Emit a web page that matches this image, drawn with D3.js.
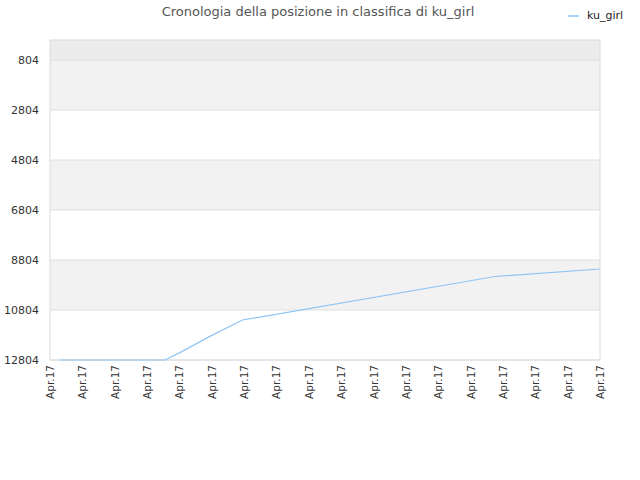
<!DOCTYPE html>
<html><head><meta charset="utf-8">
<script src="https://cdn.jsdelivr.net/npm/d3@7"></script>
<style>body{margin:0;background:#fff;font-family:"DejaVu Sans",sans-serif}</style>
</head><body><div id="chart"></div>
<script>
// x positions expressed in tick-slot units (0..17)
const tickLabels = d3.range(18).map(() => "Apr.17");
const xVals = [0.3, 3.55, 4.0, 5.0, 5.95, 13.75, 17];
const rankVals = [12804, 12804, 12520, 11820, 11204, 9464, 9164];
const yTicks = [804, 2804, 4804, 6804, 8804, 10804, 12804];

const W = 640, H = 480, m = {l: 50, r: 40, t: 40, b: 120};
const svg = d3.select("#chart").append("svg").attr("width", W).attr("height", H);

const x = d3.scaleLinear().domain([0, 17]).range([m.l, W - m.r]);
const y = d3.scaleLinear().domain([4, 12804]).range([m.t, H - m.b]);

// bands
const bands = [[4, 804, "#ececec"], [804, 2804, "#f2f2f2"], [4804, 6804, "#f2f2f2"], [8804, 10804, "#f2f2f2"]];
svg.selectAll(".band").data(bands).enter().append("rect")
  .attr("x", x(0)).attr("width", x(17) - x(0))
  .attr("y", d => y(d[0])).attr("height", d => y(d[1]) - y(d[0]))
  .attr("fill", d => d[2]);
svg.selectAll(".grid").data(yTicks).enter().append("line")
  .attr("x1", x(0)).attr("x2", x(17)).attr("y1", d => y(d)).attr("y2", d => y(d))
  .attr("stroke", "#e0e0e0");
svg.append("rect").attr("x", x(0)).attr("y", m.t).attr("width", x(17) - x(0)).attr("height", H - m.b - m.t)
  .attr("fill", "none").attr("stroke", "#dcdcdc");

svg.selectAll(".yl").data(yTicks).enter().append("text")
  .attr("x", m.l - 11).attr("y", d => y(d) + 4).attr("text-anchor", "end")
  .attr("font-size", 11).attr("fill", "#333").text(d => d);

svg.selectAll(".xl").data(tickLabels).enter().append("text")
  .attr("transform", (d, i) => `translate(${x(i) + 4},${H - m.b + 5})rotate(-90)`)
  .attr("text-anchor", "end").attr("font-size", 10.5).attr("fill", "#333").text(d => d);

const line = d3.line().x(d => x(d[0])).y(d => y(d[1]));
svg.append("path").datum(xVals.map((v, i) => [v, rankVals[i]]))
  .attr("d", line).attr("fill", "none").attr("stroke", "#90c4f4").attr("stroke-width", 1.2);

svg.append("text").attr("x", 318).attr("y", 16).attr("text-anchor", "middle")
  .attr("font-size", 13).attr("fill", "#555").text("Cronologia della posizione in classifica di ku_girl");

svg.append("line").attr("x1", 568).attr("x2", 579).attr("y1", 16).attr("y2", 16).attr("stroke", "#90c4f4").attr("stroke-width", 1.5);
svg.append("text").attr("x", 587).attr("y", 19).attr("font-size", 11).attr("fill", "#222").text("ku_girl");
</script></body></html>
